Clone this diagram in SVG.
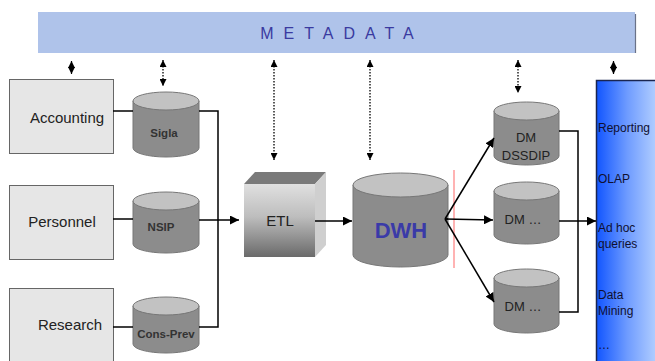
<svg xmlns="http://www.w3.org/2000/svg" width="655" height="361" viewBox="0 0 655 361">
<defs>
<style>
.box{fill:#e6e6e6;stroke:#666;stroke-width:1}
.lbl{font-family:"Liberation Sans",Arial,sans-serif;fill:#222}
.cyl{fill:#8c8c8c;stroke:#777;stroke-width:1}
.cyltop{fill:#c2c2c2;stroke:#777;stroke-width:1}
.cl{font-family:"Liberation Sans",Arial,sans-serif;font-weight:bold;font-size:11.5px;fill:#333;text-anchor:middle}
.dm{font-family:"Liberation Sans",Arial,sans-serif;font-size:13px;fill:#222;text-anchor:middle}
.ln{fill:none;stroke:#000;stroke-width:1.5}
.dot{fill:none;stroke:#000;stroke-width:1.3;stroke-dasharray:1.5 1.5}
.bt{font-family:"Liberation Sans",Arial,sans-serif;font-size:12px;fill:#101030}
</style>
<marker id="ah" viewBox="0 0 10 10" refX="10" refY="5" markerWidth="7" markerHeight="7" markerUnits="userSpaceOnUse" orient="auto-start-reverse"><path d="M0,0 L10,5 L0,10 Z" fill="#000"/></marker>
<marker id="ah2" viewBox="0 0 10 10" refX="10" refY="5" markerWidth="9" markerHeight="9" markerUnits="userSpaceOnUse" orient="auto-start-reverse"><path d="M0,0 L10,5 L0,10 Z" fill="#000"/></marker>
<linearGradient id="etlg" x1="0" y1="0" x2="0" y2="1"><stop offset="0" stop-color="#e0e0e0"/><stop offset="0.45" stop-color="#bdbdbd"/><stop offset="1" stop-color="#6a6a6a"/></linearGradient>
<linearGradient id="blueg" x1="0" y1="0" x2="1" y2="0"><stop offset="0" stop-color="#1155ff"/><stop offset="0.5" stop-color="#6f9cff"/><stop offset="1" stop-color="#b7d2ff"/></linearGradient>
</defs>

<g id="metadata">
<rect x="38" y="12" width="597" height="41" fill="#afc3ea"/>
<line x1="635.5" y1="14" x2="635.5" y2="53" stroke="#6a7288" stroke-width="1.2"/>
<text x="342" y="39" font-family="Liberation Sans,Arial,sans-serif" font-size="16" fill="#3a3aa0" text-anchor="middle" letter-spacing="10">METADATA</text>
</g>

<g id="accounting"><rect class="box" x="9.5" y="79.5" width="104" height="74"/><text class="lbl" x="67" y="123" font-size="15" text-anchor="middle">Accounting</text></g>
<g id="personnel"><rect class="box" x="9.5" y="185.5" width="104" height="74"/><text class="lbl" x="62" y="227" font-size="15" text-anchor="middle">Personnel</text></g>
<g id="research"><rect class="box" x="9.5" y="288.5" width="104" height="80"/><text class="lbl" x="70" y="330" font-size="15" text-anchor="middle">Research</text></g>

<g id="sigla"><path class="cyl" d="M133,101 L133,148 A33,9 0 0 0 199,148 L199,101 Z"/><ellipse class="cyltop" cx="166" cy="101" rx="33" ry="9"/><text class="cl" x="164" y="137">Sigla</text></g>
<g id="nsip"><path class="cyl" d="M133,201 L133,244 A33,9 0 0 0 199,244 L199,201 Z"/><ellipse class="cyltop" cx="166" cy="201" rx="33" ry="9"/><text class="cl" x="161" y="231">NSIP</text></g>
<g id="consprev"><path class="cyl" d="M133,306 L133,344 A33,9 0 0 0 199,344 L199,306 Z"/><ellipse class="cyltop" cx="166" cy="306" rx="33" ry="9"/><text class="cl" x="166" y="338">Cons-Prev</text></g>

<g id="etl">
<path d="M244,184 L255,172 L326,172 L315,184 Z" fill="#7a7a7a"/>
<path d="M315,184 L326,172 L326,245 L315,257 Z" fill="#cfcfcf"/>
<rect x="244" y="184" width="71" height="73" fill="url(#etlg)"/>
<text class="lbl" x="280" y="226" font-size="15" text-anchor="middle">ETL</text>
</g>

<g id="dwh"><path class="cyl" d="M353,185 L353,255 A47.5,12 0 0 0 448,255 L448,185 Z"/><ellipse class="cyltop" cx="400.5" cy="185" rx="47.5" ry="12"/><text x="401" y="238" font-family="Liberation Sans,Arial,sans-serif" font-weight="bold" font-size="22" fill="#3a3aa8" text-anchor="middle">DWH</text></g>

<g id="dm1"><path class="cyl" d="M494,111 L494,156 A32.5,9 0 0 0 559,156 L559,111 Z"/><ellipse class="cyltop" cx="526.5" cy="111" rx="32.5" ry="9"/><text class="dm" x="526" y="142">DM</text><text class="dm" x="526" y="160" font-size="12">DSSDIP</text></g>
<g id="dm2"><path class="cyl" d="M494,191 L494,235 A32.5,9 0 0 0 559,235 L559,191 Z"/><ellipse class="cyltop" cx="526.5" cy="191" rx="32.5" ry="9"/><text class="dm" x="523" y="224">DM …</text></g>
<g id="dm3"><path class="cyl" d="M494,278 L494,324 A32.5,9 0 0 0 559,324 L559,278 Z"/><ellipse class="cyltop" cx="526.5" cy="278" rx="32.5" ry="9"/><text class="dm" x="523" y="311">DM …</text></g>

<g id="tools">
<rect x="596.5" y="80.5" width="62" height="290" fill="url(#blueg)" stroke="#1a2550" stroke-width="1.5"/>
<text class="bt" x="598" y="132">Reporting</text>
<text class="bt" x="598" y="183">OLAP</text>
<text class="bt" x="598" y="232">Ad hoc</text>
<text class="bt" x="598" y="248">queries</text>
<text class="bt" x="598" y="299">Data</text>
<text class="bt" x="598" y="315">Mining</text>
<text class="bt" x="598" y="349">…</text>
</g>

<g id="connectors">
<line x1="454" y1="170" x2="454" y2="268" stroke="#ff8080" stroke-width="1.2"/>
<line class="ln" x1="113" y1="111" x2="133" y2="111"/>
<line class="ln" x1="113" y1="219" x2="133" y2="219"/>
<line class="ln" x1="113" y1="327" x2="133" y2="327"/>
<polyline class="ln" points="199,111 218,111 218,327 199,327"/>
<line class="ln" x1="199" y1="220" x2="239" y2="220" marker-end="url(#ah2)"/>
<line class="ln" x1="315" y1="221" x2="352" y2="221" marker-end="url(#ah2)"/>
<line class="ln" x1="448" y1="219" x2="445" y2="219"/>
<line class="ln" x1="445" y1="219" x2="494" y2="138" marker-end="url(#ah2)"/>
<line class="ln" x1="445" y1="219" x2="493" y2="220" marker-end="url(#ah2)"/>
<line class="ln" x1="445" y1="219" x2="494" y2="302" marker-end="url(#ah2)"/>
<polyline class="ln" points="559,131 578,131 578,312 559,312"/>
<line class="ln" x1="559" y1="221" x2="596" y2="221" marker-end="url(#ah2)"/>
<line stroke="#000" stroke-width="1.2" x1="71.5" y1="61" x2="71.5" y2="74" marker-start="url(#ah)" marker-end="url(#ah)"/>
<line stroke="#000" stroke-width="1.2" x1="613.5" y1="61" x2="613.5" y2="74" marker-start="url(#ah)" marker-end="url(#ah)"/>
<line class="dot" x1="163" y1="60" x2="163" y2="86" marker-start="url(#ah)" marker-end="url(#ah)"/>
<line class="dot" x1="274" y1="60" x2="274" y2="160" marker-start="url(#ah)" marker-end="url(#ah)"/>
<line class="dot" x1="370" y1="60" x2="370" y2="160" marker-start="url(#ah)" marker-end="url(#ah)"/>
<line class="dot" x1="518" y1="60" x2="518" y2="93" marker-start="url(#ah)" marker-end="url(#ah)"/>
</g>
</svg>
